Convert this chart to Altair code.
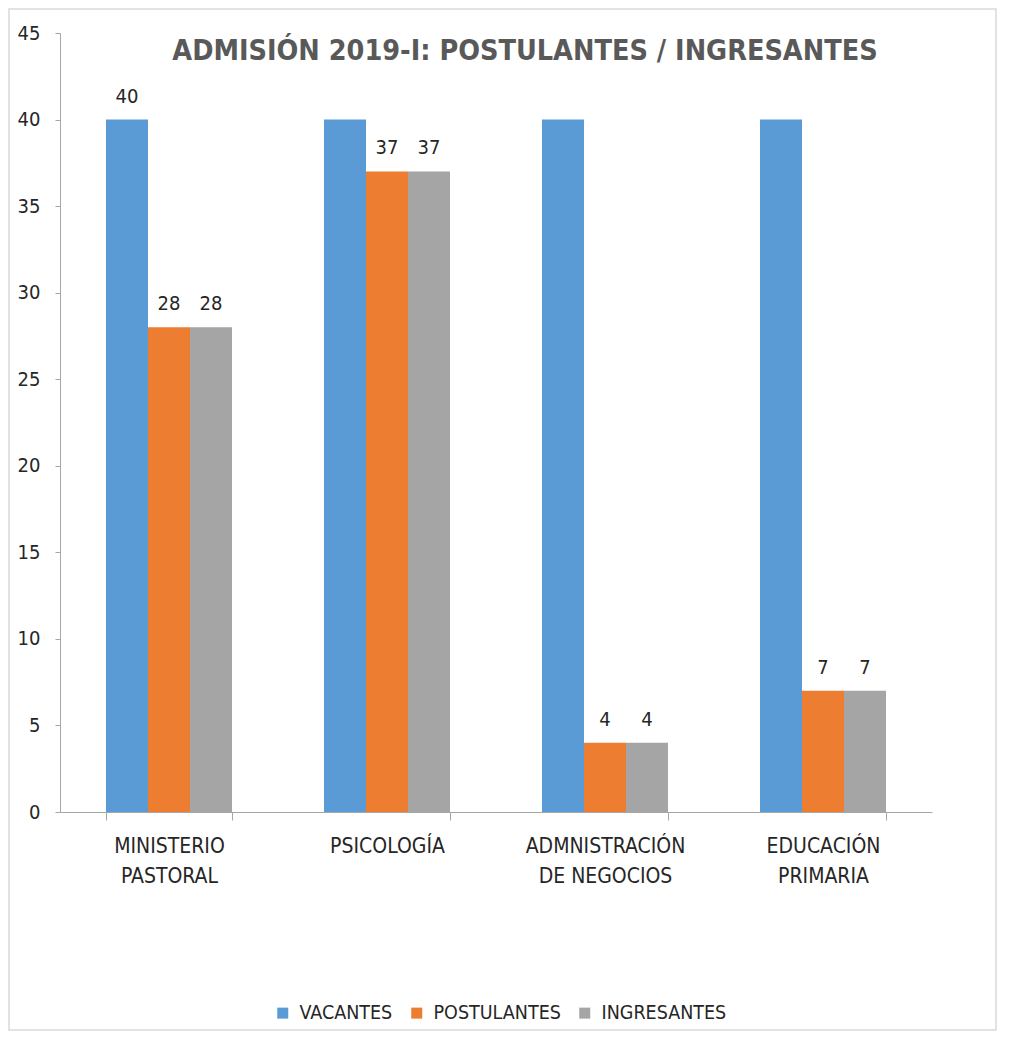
import altair as alt
import pandas as pd

categories = ["MINISTERIO\nPASTORAL", "PSICOLOGÍA", "ADMNISTRACIÓN\nDE NEGOCIOS", "EDUCACIÓN\nPRIMARIA"]
series = ["VACANTES", "POSTULANTES", "INGRESANTES"]
vacantes = [40, 40, 40, 40]
postulantes = [28, 37, 4, 7]
ingresantes = [28, 37, 4, 7]
show_vacantes = [True, False, False, False]
show_postulantes = [True, True, True, True]
show_ingresantes = [True, True, True, True]
colors = ["#5B9BD5", "#ED7D31", "#A5A5A5"]
y_ticks = [0, 5, 10, 15, 20, 25, 30, 35, 40, 45]

rows = []
for vals, shows, s in [(vacantes, show_vacantes, series[0]),
                       (postulantes, show_postulantes, series[1]),
                       (ingresantes, show_ingresantes, series[2])]:
    for c, v, sh in zip(categories, vals, shows):
        rows.append({"cat": c, "serie": s, "valor": v, "show": sh})
df = pd.DataFrame(rows)

FONT = "DejaVu Sans Condensed, Open Sans, sans-serif"
W, H = 872, 779

x_enc = alt.X("cat:N", sort=categories,
              scale=alt.Scale(paddingInner=0.422, paddingOuter=0.211),
              axis=alt.Axis(title=None, labelAngle=0, tickBand="extent",
                            labelExpr="split(datum.label, '\\n')",
                            labelFontSize=21, labelColor="#262626", labelFont=FONT,
                            labelLineHeight=30, labelPadding=15, labelBaseline="top",
                            tickSize=8, tickColor="#A6A6A6", domainColor="#A6A6A6",
                            grid=False))
xoff = alt.XOffset("serie:N", sort=series, scale=alt.Scale(paddingInner=0, paddingOuter=0))
y_enc = alt.Y("valor:Q", scale=alt.Scale(domain=[0, 45], nice=False),
              axis=alt.Axis(title=None, values=y_ticks, grid=False, tickSize=5,
                            labelFontSize=20, labelColor="#262626", labelFont=FONT,
                            labelPadding=15, tickColor="#A6A6A6", domainColor="#A6A6A6"))

bars = alt.Chart(df).mark_bar().encode(
    x=x_enc, xOffset=xoff, y=y_enc,
    color=alt.Color("serie:N", sort=series,
                    scale=alt.Scale(domain=series, range=colors),
                    legend=alt.Legend(title=None, orient="none", direction="horizontal",
                                      legendX=213, legendY=H + 191,
                                      symbolType="square", symbolSize=121,
                                      symbolStrokeWidth=0,
                                      labelFontSize=19.5, labelFont=FONT, labelColor="#262626",
                                      columnPadding=14, symbolOffset=0, labelOffset=7))
)

labels = alt.Chart(df).transform_filter("datum.show").mark_text(
    baseline="bottom", dy=-13, fontSize=20, font=FONT, color="#262626"
).encode(x=alt.X("cat:N", sort=categories), xOffset=xoff, y="valor:Q",
         text=alt.Text("valor:Q"))

border = alt.Chart(pd.DataFrame({"k": [0]})).mark_rect(
    fill=None, stroke="#D9D9D9", strokeWidth=1.5
).encode(x=alt.value(-51), x2=alt.value(W + 64), y=alt.value(-24), y2=alt.value(H + 218))

chart = alt.layer(border, bars, labels).properties(
    width=W, height=H,
    background="white",
    padding={"left": 52, "top": 25, "right": 65, "bottom": 220},
    autosize=alt.AutoSizeParams(type="none"),
    title=alt.TitleParams("ADMISIÓN 2019-I: POSTULANTES / INGRESANTES",
                          anchor="middle", dx=29, dy=61, fontSize=28.5, font=FONT,
                          fontWeight="bold", color="#595959"),
).configure_view(strokeWidth=0)

chart.save("out.html", embed_options={"renderer": "svg", "actions": False})
